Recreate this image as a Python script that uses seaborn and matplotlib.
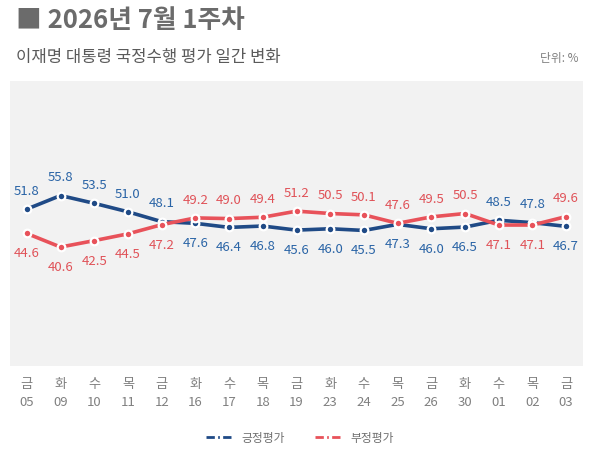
import numpy as np
import pandas as pd
import matplotlib
matplotlib.use('Agg')
import matplotlib.pyplot as plt
from matplotlib.lines import Line2D
import seaborn as sns

days = ['금', '화', '수', '목', '금', '화', '수', '목', '금', '화', '수', '목', '금', '화', '수', '목', '금']
dates = ['05', '09', '10', '11', '12', '16', '17', '18', '19', '23', '24', '25', '26', '30', '01', '02', '03']
positive = [51.8, 55.8, 53.5, 51.0, 48.1, 47.6, 46.4, 46.8, 45.6, 46.0, 45.5, 47.3, 46.0, 46.5, 48.5, 47.8, 46.7]
negative = [44.6, 40.6, 42.5, 44.5, 47.2, 49.2, 49.0, 49.4, 51.2, 50.5, 50.1, 47.6, 49.5, 50.5, 47.1, 47.1, 49.6]
series_names = ['긍정평가', '부정평가']

sns.set_style('white')
plt.rcParams['font.family'] = ['Noto Sans CJK KR', 'DejaVu Sans']
plt.rcParams['axes.unicode_minus'] = False

line_colors = {'긍정평가': '#1f4a86', '부정평가': '#e8525a'}
text_colors = {'긍정평가': '#2a64a6', '부정평가': '#e05258'}

x = np.arange(len(dates))
df = pd.DataFrame({
    'x': np.concatenate([x, x]),
    'value': positive + negative,
    'series': [series_names[0]] * len(x) + [series_names[1]] * len(x),
})

fig = plt.figure(figsize=(6, 4.64), dpi=100)
ax = fig.add_axes([10 / 600, (464 - 367) / 464, 573 / 600, 285 / 464])
ax.set_facecolor('#f2f2f2')

for name in series_names:
    sub = df[df['series'] == name]
    sns.lineplot(data=sub, x='x', y='value', ax=ax, color=line_colors[name],
                 linewidth=2.6, marker='o', markersize=5.5,
                 markerfacecolor=line_colors[name], markeredgecolor='white',
                 markeredgewidth=1.6, legend=False, zorder=3)

# 값 라벨: 높은 쪽은 위, 낮은 쪽은 아래
for i in range(len(x)):
    p, n = positive[i], negative[i]
    for name, v, other in [('긍정평가', p, n), ('부정평가', n, p)]:
        dy = 13.5 if v >= other else -14
        ax.annotate(f'{v:.1f}', (x[i], v), xytext=(0, dy), textcoords='offset points',
                    ha='center', va='center', fontsize=9.5, color=text_colors[name])

ax.set_xlim(-0.5, len(x) - 0.5)
ax.set_ylim(5.5, 89.6)
ax.set_yticks([])
ax.set_xticks(x)
ax.set_xticklabels([f'{d}\n{t}' for d, t in zip(days, dates)], fontsize=9.5,
                   color='#808080', linespacing=1.45)
ax.tick_params(axis='x', length=0, pad=8)
ax.set_xlabel('')
ax.set_ylabel('')
for s in ax.spines.values():
    s.set_visible(False)

fig.text(0.027, 0.955, '■ 2026년 7월 1주차', fontsize=18.5, fontweight='bold',
         color='#6b6b6b', va='center')
fig.text(0.027, 0.877, '이재명 대통령 국정수행 평가 일간 변화', fontsize=12,
         color='#5a5a5a', va='center')
fig.text(0.965, 0.873, '단위: %', fontsize=8.5, color='#808080', va='center', ha='right')

handles = [Line2D([0], [0], color=line_colors[n], linewidth=2, linestyle=(0, (3, 1.2, 0.6, 1.2)))
           for n in series_names]
fig.legend(handles, series_names, loc='center', bbox_to_anchor=(0.5, 0.055), ncol=2,
           frameon=False, fontsize=8.5, handlelength=2.2, columnspacing=2.5,
           labelcolor='#707070')

fig.savefig('out.png', dpi=100)
